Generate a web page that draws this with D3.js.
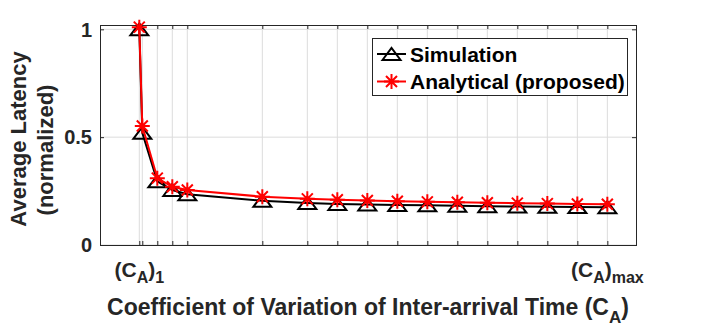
<!DOCTYPE html>
<html>
<head>
<meta charset="utf-8">
<script src="https://cdn.jsdelivr.net/npm/d3@7"></script>
<style>
  body { margin: 0; background: #fff; }
  text { font-family: "Liberation Sans", Arial, sans-serif; font-weight: bold; fill: #262626; }
</style>
</head>
<body>
<div id="grafico"></div>
<script>
// Datos (C_A sin unidades, latencia normalizada)
var caValues = [0.8, 1, 2, 3, 4, 9, 12, 14, 16, 18, 20, 22, 24, 26, 28, 30, 32];
var simulation = [1.0, 0.52, 0.295, 0.255, 0.235, 0.205, 0.195, 0.19, 0.188, 0.186, 0.184, 0.182, 0.18, 0.178, 0.177, 0.176, 0.175];
var analytical = [1.01, 0.552, 0.31, 0.27, 0.255, 0.224, 0.214, 0.21, 0.206, 0.203, 0.2, 0.198, 0.196, 0.194, 0.192, 0.19, 0.189];
var yTicks = [0, 0.5, 1];
var yTickLabels = ["0", "0.5", "1"];
var seriesNames = ["Simulation", "Analytical (proposed)"];

var width = 704;
var height = 330;
var margin = { left: 100, right: 68, top: 25, bottom: 85 };

var svg = d3.select("#grafico")
    .append("svg")
    .attr("width", width)
    .attr("height", height);

svg.append("rect").attr("width", width).attr("height", height).attr("fill", "#fff");

var x = d3.scaleLinear().domain([-1.82, 33.91]).range([margin.left, width - margin.right]);
var y = d3.scaleLinear().domain([0, 1.02]).range([height - margin.bottom, margin.top]);

var x0 = margin.left, x1 = width - margin.right;
var y0 = height - margin.bottom, y1 = margin.top;

// Rejilla
svg.append("g").selectAll("line.vg")
    .data(caValues)
    .enter().append("line")
    .attr("x1", function(d) { return x(d); })
    .attr("x2", function(d) { return x(d); })
    .attr("y1", y0).attr("y2", y1)
    .attr("stroke", "#dcdcdc").attr("stroke-width", 1);

svg.append("g").selectAll("line.hg")
    .data(yTicks)
    .enter().append("line")
    .attr("x1", x0).attr("x2", x1)
    .attr("y1", function(d) { return y(d); })
    .attr("y2", function(d) { return y(d); })
    .attr("stroke", "#dcdcdc").attr("stroke-width", 1);

// Ejes con marcas hacia dentro (tambien arriba y a la derecha)
var xAxisBottom = d3.axisBottom(x).tickValues(caValues).tickSize(-4).tickFormat("");
var xAxisTop = d3.axisTop(x).tickValues(caValues).tickSize(-4).tickFormat("");
var yAxisLeft = d3.axisLeft(y).tickValues(yTicks).tickSize(-4).tickFormat("");
var yAxisRight = d3.axisRight(y).tickValues(yTicks).tickSize(-4).tickFormat("");

[
    [xAxisBottom, "translate(0," + y0 + ")"],
    [xAxisTop, "translate(0," + y1 + ")"],
    [yAxisLeft, "translate(" + x0 + ",0)"],
    [yAxisRight, "translate(" + x1 + ",0)"]
].forEach(function(a) {
    var g = svg.append("g").attr("transform", a[1]).call(a[0]);
    g.select(".domain").remove();
    g.selectAll(".tick line").attr("stroke", "#262626");
});

svg.append("rect")
    .attr("x", x0 + 0.5).attr("y", y1 + 0.5)
    .attr("width", x1 - x0).attr("height", y0 - y1)
    .attr("fill", "none").attr("stroke", "#262626").attr("stroke-width", 1);

// Etiquetas del eje Y
svg.append("g").selectAll("text")
    .data(yTicks)
    .enter().append("text")
    .attr("x", 92)
    .attr("y", function(d) { return y(d); })
    .attr("dy", "0.36em")
    .attr("text-anchor", "end")
    .style("font-size", "20px")
    .text(function(d, i) { return yTickLabels[i]; });

// Etiquetas del eje X: (C_A)_1 y (C_A)_max
var xLabelData = [
    { v: caValues[0], sub: "1" },
    { v: caValues[caValues.length - 1], sub: "max" }
];
xLabelData.forEach(function(d) {
    var t = svg.append("text")
        .attr("x", x(d.v))
        .attr("y", 277)
        .attr("text-anchor", "middle")
        .style("font-size", "21px");
    t.append("tspan").text("(C");
    t.append("tspan").attr("dy", 6).style("font-size", "16px").text("A");
    t.append("tspan").attr("dy", -6).text(")");
    t.append("tspan").attr("dy", 6).style("font-size", "16px").text(d.sub);
});

// Titulo del eje X
var xl = svg.append("text")
    .attr("x", (x0 + x1) / 2)
    .attr("y", 315)
    .attr("text-anchor", "middle")
    .style("font-size", "23px");
xl.append("tspan").text("Coefficient of Variation of Inter-arrival Time (C");
xl.append("tspan").attr("dy", 8).style("font-size", "17px").text("A");
xl.append("tspan").attr("dy", -8).text(")");

// Titulo del eje Y (dos lineas)
svg.append("text")
    .attr("transform", "translate(26,139) rotate(-90)")
    .attr("text-anchor", "middle")
    .style("font-size", "22px")
    .text("Average Latency");
svg.append("text")
    .attr("transform", "translate(53,150) rotate(-90)")
    .attr("text-anchor", "middle")
    .style("font-size", "22px")
    .text("(normalized)");

// Marcadores
function triangle(cx, cy) {
    var w = 9, h = 6;
    return "M" + (cx - w) + "," + (cy + h) + "L" + cx + "," + (cy - h) + "L" + (cx + w) + "," + (cy + h) + "Z";
}
function star(cx, cy) {
    var r = 7.5, d = 5.5;
    return "M" + (cx - r) + "," + cy + "L" + (cx + r) + "," + cy +
        "M" + cx + "," + (cy - r) + "L" + cx + "," + (cy + r) +
        "M" + (cx - d) + "," + (cy - d) + "L" + (cx + d) + "," + (cy + d) +
        "M" + (cx - d) + "," + (cy + d) + "L" + (cx + d) + "," + (cy - d);
}

var line = d3.line()
    .x(function(d) { return x(d[0]); })
    .y(function(d) { return y(d[1]); });

var simData = caValues.map(function(c, i) { return [c, simulation[i]]; });
var anaData = caValues.map(function(c, i) { return [c, analytical[i]]; });

// Simulacion (negro, triangulos)
svg.append("path")
    .datum(simData)
    .attr("d", line)
    .attr("fill", "none")
    .attr("stroke", "#000")
    .attr("stroke-width", 2);
svg.append("g").selectAll("path")
    .data(simData)
    .enter().append("path")
    .attr("d", function(d) { return triangle(x(d[0]), y(d[1])); })
    .attr("fill", "none")
    .attr("stroke", "#000")
    .attr("stroke-width", 2);

// Analitico (rojo, asteriscos)
svg.append("path")
    .datum(anaData)
    .attr("d", line)
    .attr("fill", "none")
    .attr("stroke", "#ff0000")
    .attr("stroke-width", 2);
svg.append("g").selectAll("path")
    .data(anaData)
    .enter().append("path")
    .attr("d", function(d) { return star(x(d[0]), y(d[1])); })
    .attr("fill", "none")
    .attr("stroke", "#ff0000")
    .attr("stroke-width", 2);

// Leyenda
var legend = svg.append("g");
legend.append("rect")
    .attr("x", 372.5).attr("y", 38.5)
    .attr("width", 255).attr("height", 57)
    .attr("fill", "#fff")
    .attr("stroke", "#262626").attr("stroke-width", 1);

var legendRows = [
    { name: seriesNames[0], color: "#000", marker: triangle, sw: 2, cy: 54 },
    { name: seriesNames[1], color: "#ff0000", marker: star, sw: 2, cy: 81.5 }
];
legendRows.forEach(function(r) {
    legend.append("line")
        .attr("x1", 377).attr("x2", 406)
        .attr("y1", r.cy).attr("y2", r.cy)
        .attr("stroke", r.color).attr("stroke-width", 2);
    legend.append("path")
        .attr("d", r.marker(391.5, r.cy))
        .attr("fill", "none")
        .attr("stroke", r.color)
        .attr("stroke-width", r.sw);
    legend.append("text")
        .attr("x", 410)
        .attr("y", r.cy + 7.5)
        .style("font-size", "21px")
        .style("fill", "#000")
        .text(r.name);
});
</script>
</body>
</html>
